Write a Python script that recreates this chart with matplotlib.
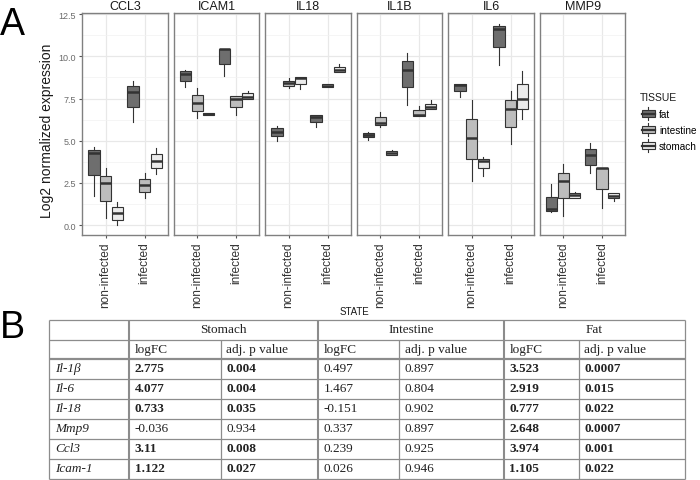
import matplotlib
matplotlib.use('Agg')
import matplotlib.pyplot as plt
from matplotlib.patches import Rectangle, Patch
from matplotlib.lines import Line2D
from matplotlib.legend_handler import HandlerBase

# ---------------- data ----------------
genes = ['CCL3', 'ICAM1', 'IL18', 'IL1B', 'IL6', 'MMP9']
states = ['non-infected', 'infected']
tissues = ['fat', 'intestine', 'stomach']
tissue_colors = ['#6e6e6e', '#bdbdbd', '#ebebeb']
y_ticks = [0.0, 2.5, 5.0, 7.5, 10.0, 12.5]
y_ticklabels = ['0.0', '2.5', '5.0', '7.5', '10.0', '12.5']

# box statistics [gene][state][tissue]
box_med = [
    [[4.27, 2.49, 0.69], [7.89, 2.35, 3.79]],
    [[8.95, 7.21, 6.60], [10.41, 7.47, 7.57]],
    [[5.49, 8.40, 8.72], [6.42, 8.26, 9.17]],
    [[5.36, 6.03, 4.27], [9.21, 6.50, 7.02]],
    [[8.28, 5.16, 3.81], [11.64, 6.88, 7.49]],
    [[0.93, 2.61, 1.78], [4.17, 3.36, 1.74]],
]
box_q1 = [
    [[2.98, 1.44, 0.32], [6.98, 1.96, 3.38]],
    [[8.54, 6.74, 6.52], [9.57, 7.02, 7.49]],
    [[5.26, 8.22, 8.38], [6.11, 8.18, 9.07]],
    [[5.22, 5.91, 4.17], [8.16, 6.44, 6.86]],
    [[7.94, 3.89, 3.36], [10.55, 5.83, 6.90]],
    [[0.83, 1.58, 1.62], [3.58, 2.13, 1.58]],
]
box_q3 = [
    [[4.47, 2.92, 1.05], [8.24, 2.73, 4.19]],
    [[9.11, 7.69, 6.66], [10.45, 7.63, 7.81]],
    [[5.73, 8.54, 8.77], [6.50, 8.34, 9.35]],
    [[5.47, 6.38, 4.37], [9.70, 6.80, 7.19]],
    [[8.38, 6.28, 3.89], [11.80, 7.39, 8.34]],
    [[1.68, 3.10, 1.88], [4.51, 3.36, 1.88]],
]
box_lo = [
    [[1.74, 0.43, -0.02], [6.11, 1.60, 3.02]],
    [[8.16, 6.36, 6.52], [8.81, 6.52, 7.49]],
    [[4.98, 8.14, 8.04], [5.81, 8.18, 9.07]],
    [[5.06, 5.83, 4.17], [7.13, 6.44, 6.86]],
    [[7.61, 2.63, 2.91], [9.51, 4.82, 6.30]],
    [[0.79, 0.51, 1.62], [3.06, 1.01, 1.42]],
]
box_hi = [
    [[4.60, 3.38, 1.38], [8.56, 3.06, 4.55]],
    [[9.21, 8.14, 6.66], [10.45, 7.67, 7.96]],
    [[5.87, 8.72, 8.77], [6.50, 8.34, 9.57]],
    [[5.51, 6.72, 4.47], [10.18, 7.08, 7.39]],
    [[8.38, 7.43, 4.01], [11.90, 7.92, 9.15]],
    [[2.43, 3.60, 1.94], [4.84, 3.36, 1.88]],
]

# table B
tbl_groups = ['Stomach', 'Intestine', 'Fat']
tbl_subheads = ['logFC', 'adj. p value']
tbl_genes = ['Il-1β', 'Il-6', 'Il-18', 'Mmp9', 'Ccl3', 'Icam-1']
stomach_logfc = ['2.775', '4.077', '0.733', '-0.036', '3.11', '1.122']
stomach_p = ['0.004', '0.004', '0.035', '0.934', '0.008', '0.027']
intestine_logfc = ['0.497', '1.467', '-0.151', '0.337', '0.239', '0.026']
intestine_p = ['0.897', '0.804', '0.902', '0.897', '0.925', '0.946']
fat_logfc = ['3.523', '2.919', '0.777', '2.648', '3.974', '1.105']
fat_p = ['0.0007', '0.015', '0.022', '0.0007', '0.001', '0.022']

# ---------------- figure ----------------
W, H = 700, 481
fig = plt.figure(figsize=(7, 4.81), dpi=100)
SANS = ['Liberation Sans', 'DejaVu Sans']
SERIF = ['Liberation Serif', 'DejaVu Serif']
plt.rcParams['font.family'] = SANS


def fx(px):
    return px / W


def fy(py):
    return 1 - py / H


# overlay axes in pixel coords for free text and table
tax = fig.add_axes([0, 0, 1, 1])
tax.set_xlim(0, W)
tax.set_ylim(H, 0)
tax.axis('off')

panel_left0, panel_w, pitch = 82.3, 85.6, 91.5
p_top, p_bot = 14, 236
offsets = [-0.3, 0.0, 0.3]
minor_y = [1.25, 3.75, 6.25, 8.75, 11.25]

for gi, gene in enumerate(genes):
    left = panel_left0 + gi * pitch
    ax = fig.add_axes([fx(left), fy(p_bot), panel_w / W, (p_bot - p_top) / H])
    stats, positions, colors = [], [], []
    for si in range(len(states)):
        for ti in range(len(tissues)):
            stats.append(dict(med=box_med[gi][si][ti], q1=box_q1[gi][si][ti],
                              q3=box_q3[gi][si][ti], whislo=box_lo[gi][si][ti],
                              whishi=box_hi[gi][si][ti], fliers=[]))
            positions.append(si + 1 + offsets[ti])
            colors.append(tissue_colors[ti])
    bp = ax.bxp(stats, positions=positions, widths=0.29, patch_artist=True,
                showfliers=False, showcaps=False, manage_ticks=False,
                boxprops=dict(edgecolor='#333333', linewidth=0.8),
                medianprops=dict(color='#333333', linewidth=1.8, solid_capstyle='butt'),
                whiskerprops=dict(color='#333333', linewidth=0.8))
    for patch, c in zip(bp['boxes'], colors):
        patch.set_facecolor(c)
    ax.set_xlim(0.4, 2.6)
    ax.set_ylim(-0.59, 12.57)
    ax.set_axisbelow(True)
    ax.set_yticks(y_ticks)
    ax.set_yticks(minor_y, minor=True)
    ax.set_xticks([1, 2])
    ax.set_xticklabels(states, rotation=90, fontsize=8.6, color='#333333')
    ax.grid(which='major', color='#e8e8e8', linewidth=0.9)
    ax.grid(which='minor', axis='y', color='#f2f2f2', linewidth=0.5)
    ax.tick_params(which='minor', length=0)
    ax.tick_params(axis='x', length=2.5, width=0.8, color='#555555', pad=2)
    if gi == 0:
        ax.set_yticklabels(y_ticklabels, fontsize=6.5, color='#6a6a6a')
        ax.tick_params(axis='y', length=2.5, width=0.8, color='#555555', pad=2)
    else:
        ax.tick_params(axis='y', length=0, labelleft=False)
    for sp in ax.spines.values():
        sp.set_color('#808080')
        sp.set_linewidth(1.0)
    ax.set_title(gene, fontsize=9, color='#1a1a1a', pad=3)

# axis labels and panel letters
tax.text(47, 131, 'Log2 normalized expression', rotation=90, fontsize=10,
         ha='center', va='center', color='#1a1a1a')
tax.text(354, 312, 'STATE', fontsize=7, ha='center', va='center', color='#1a1a1a')
tax.text(0, 25, 'A', fontsize=27, ha='left', va='center', color='black')
tax.text(0, 328, 'B', fontsize=27, ha='left', va='center', color='black')


# legend
class BoxKey(HandlerBase):
    def create_artists(self, legend, orig_handle, xdescent, ydescent,
                       width, height, fontsize, trans):
        x0, y0 = -xdescent, -ydescent
        fc = orig_handle.get_facecolor()
        wl = Line2D([x0 + width / 2] * 2, [y0 - 0.35 * height, y0 + 1.35 * height],
                    color='#333333', lw=0.8, transform=trans)
        rect = Rectangle((x0, y0), width, height, facecolor=fc,
                         edgecolor='#333333', lw=0.8, transform=trans)
        md = Line2D([x0, x0 + width], [y0 + height / 2] * 2, color='#333333',
                    lw=1.6, transform=trans)
        return [wl, rect, md]


tax.text(640, 98, 'TISSUE', fontsize=7.5, ha='left', va='center', color='#1a1a1a')
handles = [Patch(facecolor=c) for c in tissue_colors]
leg = fig.legend(handles, tissues, loc='upper left',
                 bbox_to_anchor=(fx(641.5), fy(110)), frameon=False,
                 handler_map={Patch: BoxKey()}, fontsize=7.2,
                 handlelength=1.3, handleheight=0.75, handletextpad=0.45,
                 labelspacing=0.6, borderpad=0, borderaxespad=0)

# ---------------- table ----------------
col_x = [49, 129, 220.7, 318.3, 399.3, 504, 579, 685]
row_y = [320.5, 340.5, 359.5, 379.6, 399.7, 419.8, 439.9, 460.0, 480.0]
LC = '#8c8c8c'


def hline(y, x0, x1, lw=1.0):
    tax.plot([x0, x1], [y, y], color=LC, lw=lw, solid_capstyle='butt')


def vline(x, y0, y1, lw=1.0):
    tax.plot([x, x], [y0, y1], color=LC, lw=lw, solid_capstyle='butt')


for i, y in enumerate(row_y):
    hline(y, col_x[0], col_x[-1], lw=1.6 if i == 2 else 0.9)
for i, x in enumerate(col_x):
    if i in (2, 4, 6):
        vline(x, row_y[1], row_y[-1], lw=0.9)
    else:
        vline(x, row_y[0], row_y[-1], lw=1.5 if i in (1, 3, 5) else 0.9)

TFS = 9.5
for g, name in enumerate(tbl_groups):
    xc = (col_x[1 + 2 * g] + col_x[3 + 2 * g]) / 2
    tax.text(xc, (row_y[0] + row_y[1]) / 2, name, family=SERIF, fontsize=TFS,
             ha='center', va='center', color='#222222')
    for k, sh in enumerate(tbl_subheads):
        tax.text(col_x[1 + 2 * g + k] + 5.5, (row_y[1] + row_y[2]) / 2, sh,
                 family=SERIF, fontsize=TFS, ha='left', va='center', color='#222222')

cols = [(stomach_logfc, stomach_p), (intestine_logfc, intestine_p), (fat_logfc, fat_p)]
for r, gname in enumerate(tbl_genes):
    yc = (row_y[2 + r] + row_y[3 + r]) / 2 - 0.5
    tax.text(col_x[0] + 6, yc, gname, family=SERIF, fontsize=TFS, style='italic',
             ha='left', va='center', color='#222222')
    for g, (lfc, pv) in enumerate(cols):
        sig = float(pv[r]) < 0.05
        fw = 'bold' if sig else 'normal'
        tax.text(col_x[1 + 2 * g] + 5.5, yc, lfc[r], family=SERIF, fontsize=TFS,
                 fontweight=fw, ha='left', va='center', color='#222222')
        tax.text(col_x[2 + 2 * g] + 5.5, yc, pv[r], family=SERIF, fontsize=TFS,
                 fontweight=fw, ha='left', va='center', color='#222222')

fig.savefig('out.png', dpi=100)
